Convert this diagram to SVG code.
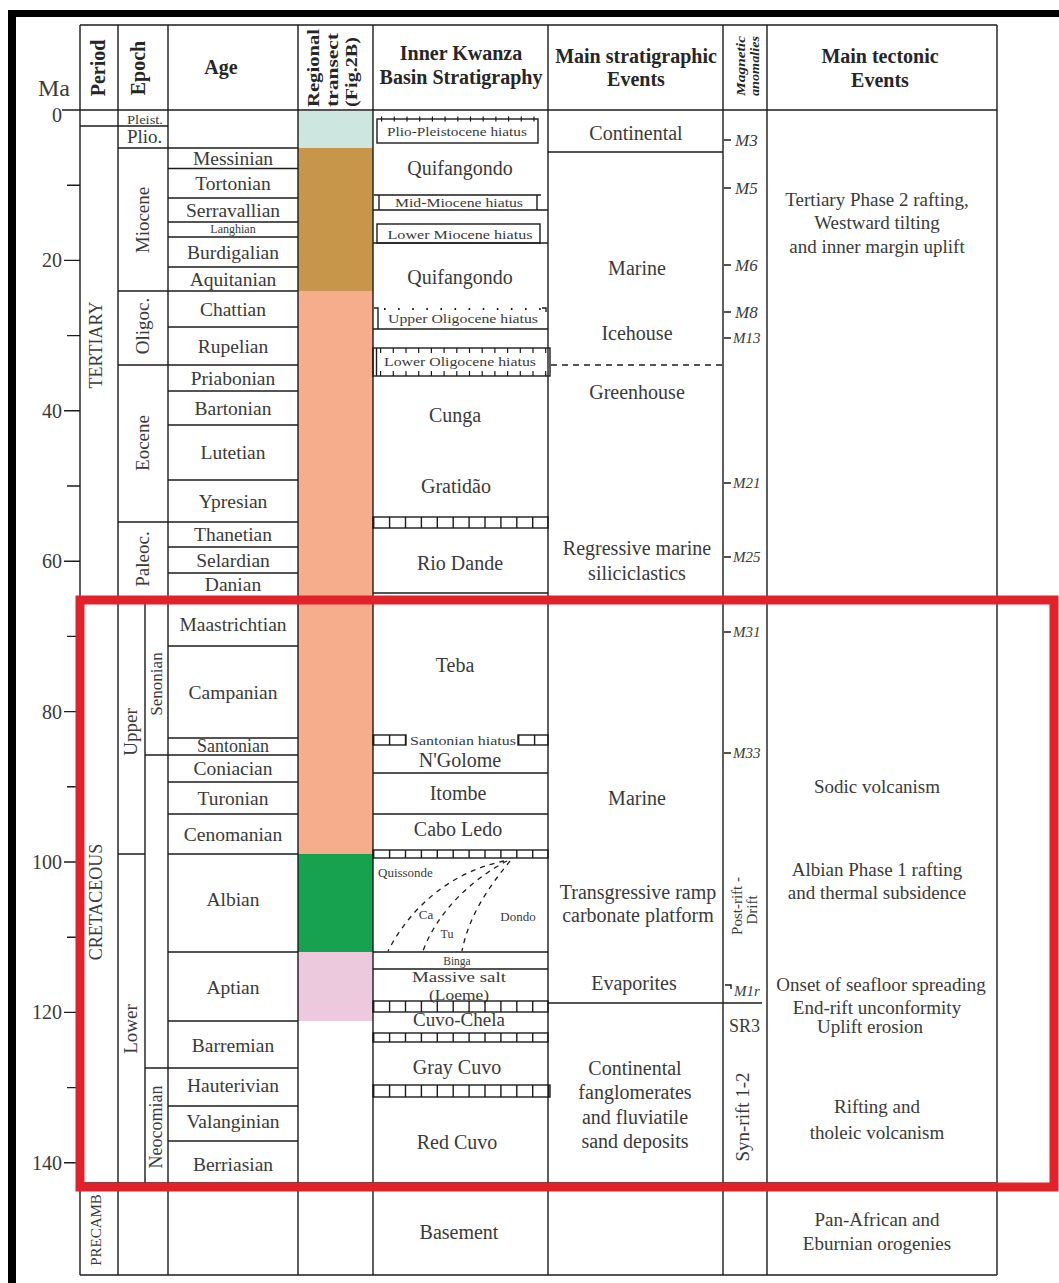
<svg xmlns="http://www.w3.org/2000/svg" width="1059" height="1283" viewBox="0 0 1059 1283">
<defs>
<style>
text{font-family:"Liberation Serif","Times New Roman",serif;fill:#3a3a3a;font-size:19.5px}
.m{text-anchor:middle}
.e{text-anchor:end}
.b{font-weight:bold;fill:#262626}
.i{font-style:italic}
.sm{font-size:13px}
.g{stroke:#1c1c1c;stroke-width:1.4;fill:none}
.rung{stroke:#1c1c1c;stroke-dasharray:1.4 14.5;fill:none}
.tick{stroke:#1c1c1c;stroke-dasharray:1.2 11.5;fill:none;stroke-width:5}
.dash{stroke:#1c1c1c;stroke-width:1.3;stroke-dasharray:5 5;fill:none}
</style>
</defs>
<rect x="0" y="0" width="1059" height="1283" fill="#fff"/>

<g id="frame">
<rect x="8" y="10" width="1051" height="7" fill="#000"/>
<rect x="8" y="10" width="8" height="1273" fill="#000"/>
</g>

<g id="transect">
<rect x="298" y="111" width="75" height="37" fill="#cde6df"/>
<rect x="298" y="148" width="75" height="143" fill="#c8964a"/>
<rect x="298" y="291" width="75" height="563" fill="#f5ad8c"/>
<rect x="298" y="854" width="75" height="98" fill="#17a24f"/>
<rect x="298" y="952" width="75" height="69" fill="#edc9de"/>
</g>

<g id="grid" class="g">
<path d="M80,25V1275 M118,25V1275 M145,600V1183 M168,25V1275 M298,25V1275 M373,25V1275 M548,25V1275 M723,25V1275 M767,25V1275 M997,25V1275"/>
<path d="M80,25H997 M62,110H997 M80,1275H997 M80,126H168 M118,148H298 M168,168.5H298 M168,198H298 M168,222H298 M168,237H298 M168,267H298 M118,291H298 M168,327H298 M118,365H298 M168,391H298 M168,425H298 M168,480H298 M118,522H298 M168,547H298 M168,573H298 M80,597H298 M168,646H298 M168,738H298 M145,755H298 M168,782H298 M168,814H298 M118,854H145 M168,854H298 M168,952H298 M168,1021H298 M145,1068H298 M168,1106H298 M168,1141H298 M80,1183H997"/>
</g>

<g id="ma-axis">
<path class="g" d="M64,260.4H80 M64,410.8H80 M64,561.2H80 M64,711.6H80 M64,862H80 M64,1012.4H80 M64,1162.8H80 M67,185.2H80 M67,335.6H80 M67,486H80 M67,636.4H80 M67,786.8H80 M67,937.2H80 M67,1087.6H80"/>
<text x="38" y="96" style="font-size:24px">Ma</text>
<text x="62" y="122" class="e" style="font-size:20px">0</text>
<text x="62" y="267.4" class="e" style="font-size:20px">20</text>
<text x="62" y="418" class="e" style="font-size:20px">40</text>
<text x="62" y="568" class="e" style="font-size:20px">60</text>
<text x="62" y="719" class="e" style="font-size:20px">80</text>
<text x="62" y="869" class="e" style="font-size:20px">100</text>
<text x="62" y="1019" class="e" style="font-size:20px">120</text>
<text x="62" y="1170" class="e" style="font-size:20px">140</text>
</g>

<g id="header">
<g transform="translate(98 68) rotate(-90)"><text class="m b" dy="0.35em" style="font-size:20px">Period</text></g>
<g transform="translate(138 68) rotate(-90)"><text class="m b" dy="0.35em" style="font-size:20px">Epoch</text></g>
<text x="221" y="74" class="m b" style="font-size:20px">Age</text>
<g transform="translate(313 68) rotate(-90)"><text class="m b" dy="0.35em" style="font-size:17px" textLength="78" lengthAdjust="spacingAndGlyphs">Regional</text></g>
<g transform="translate(332 70) rotate(-90)"><text class="m b" dy="0.35em" style="font-size:17px" textLength="74" lengthAdjust="spacingAndGlyphs">transect</text></g>
<g transform="translate(351 72) rotate(-90)"><text class="m b" dy="0.35em" style="font-size:17px" textLength="70" lengthAdjust="spacingAndGlyphs">(Fig.2B)</text></g>
<text x="461" y="60" class="m b" style="font-size:20px">Inner Kwanza</text>
<text x="461" y="84" class="m b" style="font-size:20px">Basin Stratigraphy</text>
<text x="636" y="63" class="m b" style="font-size:20px">Main stratigraphic</text>
<text x="636" y="86" class="m b" style="font-size:20px">Events</text>
<g transform="translate(740 66) rotate(-90)"><text class="m b i" dy="0.35em" style="font-size:13px" textLength="60" lengthAdjust="spacingAndGlyphs">Magnetic</text></g>
<g transform="translate(754 66) rotate(-90)"><text class="m b i" dy="0.35em" style="font-size:13px" textLength="60" lengthAdjust="spacingAndGlyphs">anomalies</text></g>
<text x="880" y="63" class="m b" style="font-size:20px">Main tectonic</text>
<text x="880" y="87" class="m b" style="font-size:20px">Events</text>
</g>

<g id="periods">
<g transform="translate(96 345) rotate(-90)"><text class="m" dy="0.35em" style="font-size:18px">TERTIARY</text></g>
<g transform="translate(96 902) rotate(-90)"><text class="m" dy="0.35em" style="font-size:18px">CRETACEOUS</text></g>
<g transform="translate(96 1230) rotate(-90)"><text class="m" dy="0.35em" style="font-size:15px">PRECAMB</text></g>
</g>

<g id="epochs">
<text x="127" y="124" style="font-size:13px" textLength="36" lengthAdjust="spacingAndGlyphs">Pleist.</text>
<text x="127" y="143" style="font-size:19px">Plio.</text>
<g transform="translate(142 220) rotate(-90)"><text class="m" dy="0.35em" style="font-size:19px">Miocene</text></g>
<g transform="translate(142 326) rotate(-90)"><text class="m" dy="0.35em" style="font-size:19px">Oligoc.</text></g>
<g transform="translate(142 443) rotate(-90)"><text class="m" dy="0.35em" style="font-size:19px">Eocene</text></g>
<g transform="translate(142 559) rotate(-90)"><text class="m" dy="0.35em" style="font-size:19px">Paleoc.</text></g>
<g transform="translate(130 732) rotate(-90)"><text class="m" dy="0.35em" style="font-size:19px">Upper</text></g>
<g transform="translate(156 684) rotate(-90)"><text class="m" dy="0.35em" style="font-size:17px">Senonian</text></g>
<g transform="translate(130 1029) rotate(-90)"><text class="m" dy="0.35em" style="font-size:19px">Lower</text></g>
<g transform="translate(156 1127) rotate(-90)"><text class="m" dy="0.35em" style="font-size:18px">Neocomian</text></g>
</g>

<g id="ages">
<text x="233" y="165" class="m">Messinian</text>
<text x="233" y="190" class="m">Tortonian</text>
<text x="233" y="217" class="m">Serravallian</text>
<text x="233" y="233" class="m" style="font-size:12px">Langhian</text>
<text x="233" y="259" class="m">Burdigalian</text>
<text x="233" y="286" class="m">Aquitanian</text>
<text x="233" y="316" class="m">Chattian</text>
<text x="233" y="353" class="m">Rupelian</text>
<text x="233" y="385" class="m">Priabonian</text>
<text x="233" y="415" class="m">Bartonian</text>
<text x="233" y="459" class="m">Lutetian</text>
<text x="233" y="508" class="m">Ypresian</text>
<text x="233" y="541" class="m">Thanetian</text>
<text x="233" y="567" class="m">Selardian</text>
<text x="233" y="591" class="m">Danian</text>
<text x="233" y="631" class="m">Maastrichtian</text>
<text x="233" y="699" class="m">Campanian</text>
<text x="233" y="752" class="m" style="font-size:18px">Santonian</text>
<text x="233" y="775" class="m">Coniacian</text>
<text x="233" y="805" class="m">Turonian</text>
<text x="233" y="841" class="m">Cenomanian</text>
<text x="233" y="906" class="m">Albian</text>
<text x="233" y="994" class="m">Aptian</text>
<text x="233" y="1052" class="m">Barremian</text>
<text x="233" y="1092" class="m">Hauterivian</text>
<text x="233" y="1128" class="m">Valanginian</text>
<text x="233" y="1171" class="m">Berriasian</text>
</g>

<g id="kwanza">
<rect x="377" y="119" width="161" height="24" class="g"/>
<line x1="381" y1="119" x2="536" y2="119" class="tick"/>
<text x="457" y="136" class="m sm" textLength="140" lengthAdjust="spacingAndGlyphs">Plio-Pleistocene hiatus</text>
<text x="460" y="175" class="m" style="font-size:20px">Quifangondo</text>
<path class="g" d="M374,195H541 M379,195V210 M537,195V210 M373,210H548"/>
<text x="459" y="207" class="m sm" textLength="128" lengthAdjust="spacingAndGlyphs">Mid-Miocene hiatus</text>
<rect x="377" y="224" width="163" height="19" class="g"/>
<path class="g" d="M373,243H548"/>
<text x="460" y="239" class="m sm" textLength="145" lengthAdjust="spacingAndGlyphs">Lower Miocene hiatus</text>
<text x="460" y="284" class="m" style="font-size:20px">Quifangondo</text>
<line x1="384" y1="309" x2="545" y2="309" stroke="#1c1c1c" stroke-width="2" stroke-dasharray="1.6 12.5"/>
<path class="g" d="M374,308H378V329 M542,308H546V312 M373,329H548"/>
<text x="463" y="323" class="m sm" textLength="150" lengthAdjust="spacingAndGlyphs">Upper Oligocene hiatus</text>
<rect x="373" y="348" width="177" height="28" class="g"/>
<path class="g" d="M376.5,348V376"/>
<line x1="380" y1="350.5" x2="548" y2="350.5" class="tick"/>
<line x1="380" y1="373.5" x2="548" y2="373.5" class="tick"/>
<text x="460" y="366" class="m sm" textLength="152" lengthAdjust="spacingAndGlyphs">Lower Oligocene hiatus</text>
<text x="455" y="422" class="m" style="font-size:20px">Cunga</text>
<text x="456" y="493" class="m" style="font-size:20px">Gratidão</text>
<rect x="373" y="517" width="175" height="11" class="g"/>
<line x1="373" y1="522.5" x2="548" y2="522.5" class="rung" stroke-width="11"/>
<text x="460" y="570" class="m" style="font-size:20px">Rio Dande</text>
<path class="g" d="M373,593H548"/>

<text x="455" y="672" class="m" style="font-size:20px">Teba</text>
<rect x="373" y="735" width="33" height="10" class="g"/>
<line x1="373" y1="740" x2="406" y2="740" class="rung" stroke-width="10"/>
<rect x="518" y="735" width="30" height="10" class="g"/>
<line x1="518" y1="740" x2="548" y2="740" class="rung" stroke-width="10"/>
<text x="463" y="745" class="m sm" textLength="106" lengthAdjust="spacingAndGlyphs">Santonian hiatus</text>
<text x="460" y="767" class="m" style="font-size:20px">N'Golome</text>
<path class="g" d="M373,773H548 M373,814H548"/>
<text x="458" y="800" class="m" style="font-size:20px">Itombe</text>
<text x="458" y="836" class="m" style="font-size:20px">Cabo Ledo</text>
<rect x="373" y="850" width="175" height="8" class="g"/>
<line x1="373" y1="854" x2="548" y2="854" class="rung" stroke-width="8"/>
<text x="378" y="877" class="sm">Quissonde</text>
<path class="dash" d="M504,861 C470,868 420,890 388,951"/>
<path class="dash" d="M507,861 C480,875 440,905 423,951"/>
<path class="dash" d="M510,861 C495,880 470,910 462,951"/>
<text x="426" y="919" class="m sm">Ca</text>
<text x="447" y="938" class="m" style="font-size:12px">Tu</text>
<text x="518" y="921" class="m sm">Dondo</text>
<path class="g" d="M373,952H548 M373,969H548"/>
<text x="457" y="965" class="m" style="font-size:11.5px">Binga</text>
<text x="459" y="982" class="m" style="font-size:15.5px" textLength="94" lengthAdjust="spacingAndGlyphs">Massive salt</text>
<text x="459" y="1000" class="m" style="font-size:15.5px" textLength="60" lengthAdjust="spacingAndGlyphs">(Loeme)</text>
<rect x="373" y="1001" width="175" height="11" class="g"/>
<line x1="373" y1="1006.5" x2="548" y2="1006.5" class="rung" stroke-width="11"/>
<text x="459" y="1026" class="m" style="font-size:19px">Cuvo-Chela</text>
<rect x="373" y="1033" width="175" height="9" class="g"/>
<line x1="373" y1="1037.5" x2="548" y2="1037.5" class="rung" stroke-width="9"/>
<text x="457" y="1074" class="m" style="font-size:20px">Gray Cuvo</text>
<rect x="373" y="1085" width="177" height="12" class="g"/>
<line x1="373" y1="1091" x2="550" y2="1091" class="rung" stroke-width="12"/>
<text x="457" y="1149" class="m" style="font-size:20px">Red Cuvo</text>
<text x="459" y="1239" class="m" style="font-size:20px">Basement</text>
</g>

<g id="strat-events">
<path class="g" d="M548,152H723 M548,1003H762"/>
<path class="dash" d="M551,365H723" style="stroke-dasharray:6 5"/>
<text x="636" y="140" class="m" style="font-size:20px">Continental</text>
<text x="637" y="275" class="m" style="font-size:20px">Marine</text>
<text x="637" y="340" class="m" style="font-size:20px">Icehouse</text>
<text x="637" y="399" class="m" style="font-size:20px">Greenhouse</text>
<text x="637" y="555" class="m" style="font-size:20px">Regressive marine</text>
<text x="637" y="580" class="m" style="font-size:20px">siliciclastics</text>
<text x="637" y="805" class="m" style="font-size:20px">Marine</text>
<text x="638" y="899" class="m" style="font-size:20px">Transgressive ramp</text>
<text x="638" y="922" class="m" style="font-size:20px">carbonate platform</text>
<text x="634" y="990" class="m" style="font-size:20px">Evaporites</text>
<text x="635" y="1075" class="m" style="font-size:20px">Continental</text>
<text x="635" y="1099" class="m" style="font-size:20px">fanglomerates</text>
<text x="635" y="1124" class="m" style="font-size:20px">and fluviatile</text>
<text x="635" y="1148" class="m" style="font-size:20px">sand deposits</text>
</g>

<g id="magnetic">
<path class="g" d="M724,140H731 M724,188H731 M724,265H731 M724,312H731 M724,338H731 M724,483H731 M724,557H731 M724,632H731 M724,753H731 M725,985H731V989"/>
<text x="735" y="146" class="i" style="font-size:17px">M3</text>
<text x="735" y="194" class="i" style="font-size:17px">M5</text>
<text x="735" y="271" class="i" style="font-size:17px">M6</text>
<text x="735" y="318" class="i" style="font-size:17px">M8</text>
<text x="733" y="343" class="i" style="font-size:15px">M13</text>
<text x="733" y="488" class="i" style="font-size:15px">M21</text>
<text x="733" y="562" class="i" style="font-size:15px">M25</text>
<text x="733" y="637" class="i" style="font-size:15px">M31</text>
<text x="733" y="758" class="i" style="font-size:15px">M33</text>
<text x="734" y="996" class="i" style="font-size:15px">M1r</text>
<text x="729" y="1032" style="font-size:18px">SR3</text>
<g transform="translate(737 906) rotate(-90)"><text class="m" dy="0.35em" style="font-size:15px">Post-rift -</text></g>
<g transform="translate(752 910) rotate(-90)"><text class="m" dy="0.35em" style="font-size:15px">Drift</text></g>
<g transform="translate(742 1117) rotate(-90)"><text class="m" dy="0.35em" style="font-size:19px">Syn-rift 1-2</text></g>
</g>

<g id="tectonic">
<text x="877" y="206" class="m" style="font-size:19px">Tertiary Phase 2 rafting,</text>
<text x="877" y="229" class="m" style="font-size:19px">Westward tilting</text>
<text x="877" y="253" class="m" style="font-size:19px">and inner margin uplift</text>
<text x="877" y="793" class="m" style="font-size:19px">Sodic volcanism</text>
<text x="877" y="876" class="m" style="font-size:19px">Albian Phase 1 rafting</text>
<text x="877" y="899" class="m" style="font-size:19px">and thermal subsidence</text>
<text x="881" y="991" class="m" style="font-size:19px">Onset of seafloor spreading</text>
<text x="877" y="1014" class="m" style="font-size:19px">End-rift unconformity</text>
<text x="870" y="1033" class="m" style="font-size:19px">Uplift erosion</text>
<text x="877" y="1113" class="m" style="font-size:19px">Rifting and</text>
<text x="877" y="1139" class="m" style="font-size:19px">tholeic volcanism</text>
<text x="877" y="1226" class="m" style="font-size:19px">Pan-African and</text>
<text x="877" y="1250" class="m" style="font-size:19px">Eburnian orogenies</text>
</g>

<g id="highlight">
<rect x="80" y="600" width="974" height="587" fill="none" stroke="#e2222b" stroke-width="9"/>
</g>
</svg>
